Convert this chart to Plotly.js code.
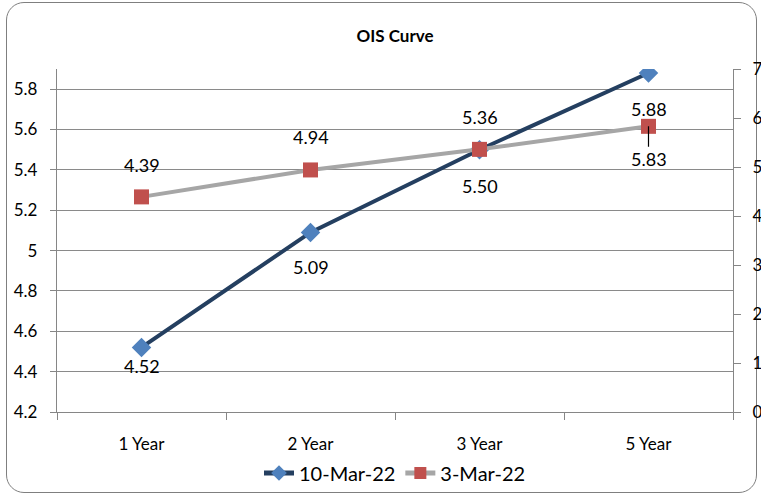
<!DOCTYPE html>
<html>
<head>
<meta charset="utf-8">
<script src="https://cdn.plot.ly/plotly-2.35.2.min.js"></script>
<style>
html,body{margin:0;padding:0;background:#fff;}
#frame{position:absolute;left:6px;top:2px;width:749px;height:489px;border:1.5px solid #7f7f7f;border-radius:18px;}
#chart{position:absolute;left:0;top:0;width:761px;height:498px;}
</style>
</head>
<body>
<div id="frame"></div>
<div id="chart"></div>
<script>
const categories = ["1 Year", "2 Year", "3 Year", "5 Year"];
const mar10 = [4.52, 5.09, 5.50, 5.88];
const mar3 = [4.39, 4.94, 5.36, 5.83];
const mar10Label = ["4.52", "5.09", "5.50", "5.88"];
const mar3Label = ["4.39", "4.94", "5.36", "5.83"];
const leftTicks = [4.2, 4.4, 4.6, 4.8, 5, 5.2, 5.4, 5.6, 5.8];
const rightTicks = [0, 1, 2, 3, 4, 5, 6, 7];

// label offsets (px) – layout only
const shift10 = [-19, -35, -36, -36];
const shift3 = [32, 33, 32, -33];

const font = "Lato, 'Open Sans', sans-serif";

const traces = [
  {
    x: categories, y: mar10, name: "10-Mar-22", type: "scatter", mode: "lines+markers",
    line: {color: "#243F60", width: 4},
    marker: {symbol: "diamond", size: 15, color: "#4F81BD"},
    yaxis: "y"
  },
  {
    x: categories, y: mar3, name: "3-Mar-22", type: "scatter", mode: "lines+markers",
    line: {color: "#A6A6A6", width: 4},
    marker: {symbol: "square", size: 15, color: "#C0504D"},
    yaxis: "y2"
  }
];

const annotations = [];
categories.forEach((c, i) => {
  annotations.push({x: c, y: mar10[i], xref: "x", yref: "y", text: mar10Label[i],
    showarrow: false, yshift: shift10[i], font: {family: font, size: 18, color: "#000"}});
  const last = i === categories.length - 1;
  annotations.push({x: c, y: mar3[i], xref: "x", yref: "y2", text: mar3Label[i],
    showarrow: last, ax: 0, ay: last ? 33 : 0, arrowhead: 0, arrowwidth: 1.2, arrowcolor: "#000",
    yshift: last ? 0 : shift3[i], font: {family: font, size: 18, color: "#000"}});
});

const layout = {
  width: 761, height: 498,
  margin: {l: 57, r: 28, t: 69, b: 86, autoexpand: false},
  paper_bgcolor: "rgba(0,0,0,0)", plot_bgcolor: "rgba(0,0,0,0)",
  title: {text: "<b>OIS Curve</b>", x: 0.5, xref: "paper", y: 0.928, yanchor: "middle",
    font: {family: "Lato, 'Open Sans', sans-serif", size: 17, color: "#000", weight: 900}},
  font: {family: font, color: "#000"},
  showlegend: true,
  legend: {orientation: "h", x: 0.5, xanchor: "center", xref: "paper", y: -0.178, yanchor: "middle",
    font: {family: font, size: 20, color: "#000"}, traceorder: "normal", itemsizing: "constant"},
  xaxis: {
    type: "category", range: [-0.5, 3.5], showgrid: false, showline: true, linecolor: "#868686", linewidth: 1.2,
    ticks: "outside", tickson: "boundaries", ticklen: 7, tickcolor: "#868686", ticklabelstandoff: 16,
    tickfont: {family: font, size: 17, color: "#000"}, zeroline: false, fixedrange: true
  },
  yaxis: {
    range: [4.2, 5.9], tickvals: leftTicks, ticktext: leftTicks.map(v => String(v)),
    showgrid: true, gridcolor: "#8a8a8a", gridwidth: 1,
    showline: true, linecolor: "#868686", linewidth: 1.2,
    ticks: "outside", ticklen: 6, tickcolor: "#868686", ticklabelstandoff: 9,
    tickfont: {family: font, size: 17, color: "#000"}, zeroline: false
  },
  yaxis2: {
    range: [0, 7], tickvals: rightTicks, overlaying: "y", side: "right",
    showgrid: false, showline: true, linecolor: "#868686", linewidth: 1.2,
    ticks: "outside", ticklen: 7, tickcolor: "#868686", ticklabelstandoff: 8,
    tickfont: {family: font, size: 17, color: "#000"}, zeroline: false
  },
  annotations: annotations
};

Plotly.newPlot("chart", traces, layout, {displayModeBar: false, staticPlot: true});
</script>
</body>
</html>
